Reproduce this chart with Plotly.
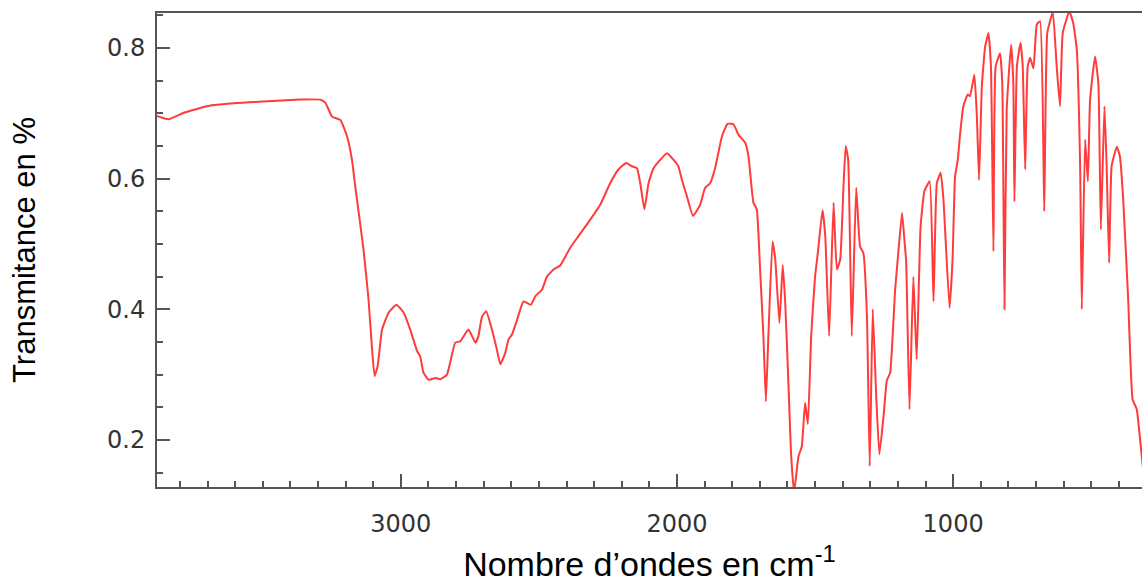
import plotly.graph_objects as go

# Wavenumber (cm-1) and transmittance
wavenumber = [3883,3841,3786,3690,3593,3498,3364,3292,3273,3249,
              3219,3195,3177,3165,3135,3117,3104,3095,3084,3068,
              3044,3016,2990,2966,2941,2930,2918,2899,2875,2857,
              2833,2803,2785,2755,2730,2719,2706,2691,2670,2652,
              2640,2622,2610,2598,2579,2556,2529,2513,2489,2471,
              2447,2423,2387,2362,2326,2278,2242,2212,2184,2163,
              2145,2133,2118,2103,2085,2036,2013,1995,1982,1964,
              1942,1916,1898,1880,1862,1837,1817,1795,1777,1753,
              1741,1729,1723,1711,1699,1687,1678,1669,1654,1644,
              1629,1617,1608,1596,1587,1576,1560,1548,1536,1526,
              1514,1500,1490,1473,1463,1449,1433,1421,1409,1397,
              1389,1380,1367,1351,1337,1325,1312,1302,1291,1278,
              1267,1252,1240,1228,1210,1198,1185,1176,1170,1158,
              1144,1132,1118,1104,1085,1071,1059,1045,1035,1013,
              1002,993,983,975,963,947,939,923,914,906,
              896,884,872,863,854,846,830,822,814,806,
              790,782,778,769,756,748,739,730,721,709,
              697,685,670,659,639,625,613,603,579,565,
              552,540,534,522,512,504,486,474,465,452,
              444,435,426,407,396,384,366,350,335,323,
              312]

transmittance = [0.696,0.691,0.701,0.712,0.716,0.718,0.721,0.721,0.716,0.695,
                 0.690,0.665,0.629,0.588,0.491,0.415,0.338,0.298,0.313,0.369,
                 0.395,0.407,0.395,0.369,0.336,0.328,0.303,0.292,0.295,0.293,
                 0.300,0.349,0.351,0.369,0.349,0.359,0.389,0.397,0.369,0.338,
                 0.316,0.333,0.354,0.361,0.384,0.412,0.407,0.420,0.430,0.450,
                 0.461,0.467,0.494,0.509,0.530,0.560,0.593,0.614,0.624,0.619,
                 0.616,0.593,0.553,0.593,0.616,0.639,0.629,0.619,0.598,0.573,
                 0.543,0.560,0.586,0.593,0.616,0.665,0.684,0.683,0.667,0.655,
                 0.634,0.583,0.563,0.553,0.461,0.359,0.259,0.359,0.504,0.476,
                 0.379,0.468,0.410,0.282,0.180,0.120,0.175,0.190,0.257,0.224,
                 0.359,0.450,0.486,0.552,0.512,0.359,0.563,0.461,0.476,0.588,
                 0.650,0.629,0.359,0.586,0.496,0.486,0.389,0.160,0.400,0.262,
                 0.178,0.236,0.291,0.303,0.430,0.489,0.548,0.504,0.473,0.247,
                 0.450,0.323,0.525,0.581,0.596,0.412,0.593,0.609,0.568,0.402,
                 0.476,0.603,0.629,0.667,0.711,0.729,0.726,0.759,0.695,0.598,
                 0.741,0.802,0.823,0.772,0.489,0.772,0.792,0.746,0.400,0.706,
                 0.805,0.746,0.565,0.772,0.808,0.772,0.614,0.772,0.785,0.769,
                 0.836,0.841,0.550,0.823,0.855,0.772,0.711,0.823,0.856,0.838,
                 0.797,0.619,0.400,0.660,0.596,0.721,0.787,0.746,0.522,0.711,
                 0.619,0.471,0.619,0.649,0.634,0.568,0.415,0.262,0.247,0.201,
                 0.155]

x_tick_values = [3000, 2000, 1000]
x_tick_labels = ["3000", "2000", "1000"]
y_tick_values = [0.2, 0.4, 0.6, 0.8]
y_tick_labels = ["0.2", "0.4", "0.6", "0.8"]

fig = go.Figure()
fig.add_trace(go.Scatter(
    x=wavenumber, y=transmittance, mode="lines",
    line=dict(color="#ff3b3b", width=2, shape="spline", smoothing=0.4),
    showlegend=False, hoverinfo="x+y",
))

axis_color = "#555555"
fig.update_layout(
    width=1142, height=583,
    margin=dict(l=157, r=0, t=13, b=96),
    paper_bgcolor="white", plot_bgcolor="white",
    xaxis=dict(
        range=[3883, 316], showgrid=False, zeroline=False,
        showline=True, linecolor=axis_color, linewidth=2, mirror=True,
        tickmode="array", tickvals=x_tick_values, ticktext=x_tick_labels,
        ticks="inside", ticklen=13, tickwidth=2, tickcolor=axis_color,
        minor=dict(dtick=100, tick0=0, ticks="inside", ticklen=6, tickwidth=1.5, tickcolor=axis_color),
        tickfont=dict(family="DejaVu Sans", size=24, color="#333333"),
        ticklabelstandoff=14,
        title=dict(text="Nombre d’ondes en cm<sup>-1</sup>",
                   font=dict(family="Liberation Sans", size=34, color="black"),
                   standoff=18),
    ),
    yaxis=dict(
        range=[0.128, 0.8536], showgrid=False, zeroline=False,
        showline=True, linecolor=axis_color, linewidth=2, mirror=False,
        tickmode="array", tickvals=y_tick_values, ticktext=y_tick_labels,
        ticks="inside", ticklen=13, tickwidth=2, tickcolor=axis_color,
        minor=dict(dtick=0.05, tick0=0, ticks="inside", ticklen=6, tickwidth=1.5, tickcolor=axis_color),
        tickfont=dict(family="DejaVu Sans", size=24, color="#333333"),
        ticklabelstandoff=5,
        title=dict(text="Transmitance en %",
                   font=dict(family="Liberation Sans", size=31, color="black"),
                   standoff=62),
    ),
)

fig.write_html(
    "out.html",
    config={"displayModeBar": False},
    post_script="document.body.style.margin='0';document.body.style.overflow='hidden';",
)
